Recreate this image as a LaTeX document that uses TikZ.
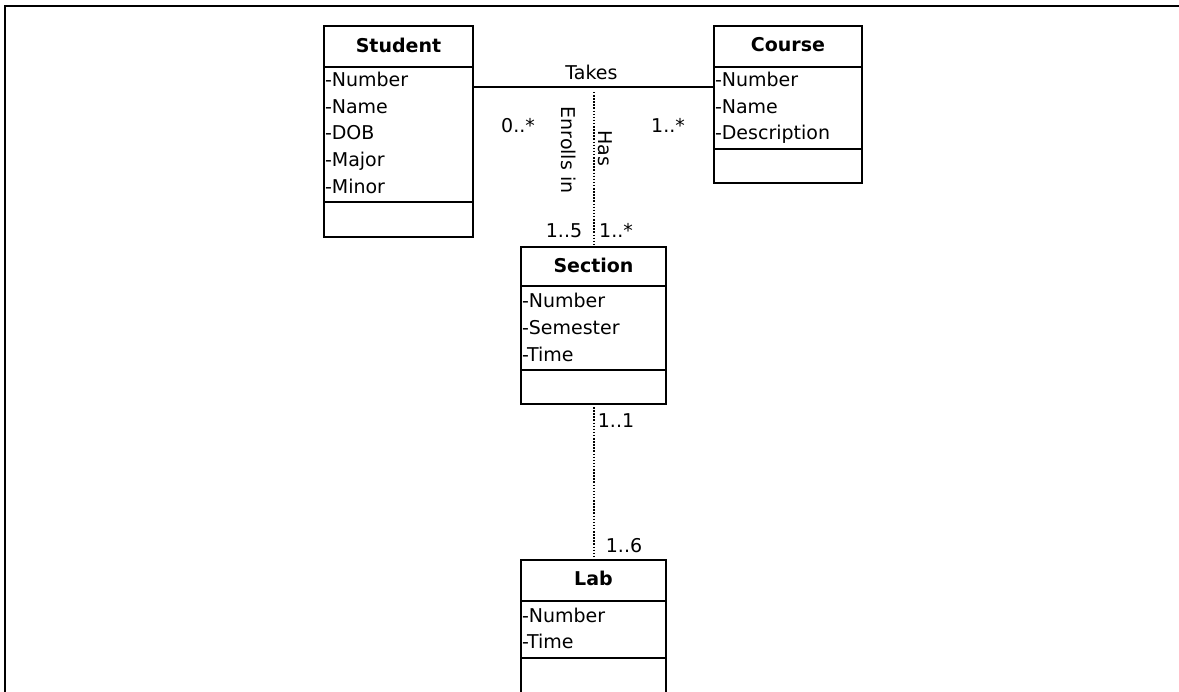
\documentclass[tikz,border=0pt]{standalone}
\usepackage{fontspec}
\setmainfont{DejaVu Sans}
\begin{document}
\begin{tikzpicture}[x=1pt,y=-1pt,
  every node/.style={font=\fontsize{19}{23}\selectfont, inner sep=0pt, outer sep=0pt},
  classbox/.style={draw, line width=2pt, anchor=north west},
  divider/.style={line width=2pt},
  title/.style={font=\fontsize{19}{23}\selectfont\bfseries},
  attr/.style={anchor=base west},
  assoc/.style={line width=1.6pt},
  dep/.style={line width=2pt, dash pattern=on 1.5pt off 1.6pt},
  mult/.style={anchor=base}
]
\clip (0,0) rectangle (1179,692);
\fill[white] (0,0) rectangle (1179,692);

% page frame (top and left edges)
\draw[line width=2.6pt] (5,692) -- (5,6) -- (1179,6);

% ---- Student ----
\node[classbox, minimum width=149pt, minimum height=211pt] (student) at (324,26) {};
\draw[divider] (324,67) -- (473,67);
\draw[divider] (324,202) -- (473,202);
\node[title] (studentT) at (398.5,45) {Student};
\node[attr] (s1) at (325,86.7) {-Number};
\node[attr] (s2) at (325,113.3) {-Name};
\node[attr] (s3) at (325,140) {-DOB};
\node[attr] (s4) at (325,166.7) {-Major};
\node[attr] (s5) at (325,193.3) {-Minor};

% ---- Course ----
\node[classbox, minimum width=148pt, minimum height=157pt] (course) at (714,26) {};
\draw[divider] (714,67) -- (862,67);
\draw[divider] (714,149) -- (862,149);
\node[title] (courseT) at (788,45) {Course};
\node[attr] (c1) at (715,86.7) {-Number};
\node[attr] (c2) at (715,113.3) {-Name};
\node[attr] (c3) at (715,140) {-Description};

% ---- Section ----
\node[classbox, minimum width=145pt, minimum height=157pt] (section) at (521,247) {};
\draw[divider] (521,286) -- (666,286);
\draw[divider] (521,370) -- (666,370);
\node[title] (sectionT) at (593.5,265) {Section};
\node[attr] (e1) at (522,308) {-Number};
\node[attr] (e2) at (522,334.7) {-Semester};
\node[attr] (e3) at (522,361.3) {-Time};

% ---- Lab ----
\node[classbox, minimum width=145pt, minimum height=150pt] (lab) at (521,560) {};
\draw[divider] (521,601) -- (666,601);
\draw[divider] (521,658) -- (666,658);
\node[title] (labT) at (593.5,578) {Lab};
\node[attr] (l1) at (522,622) {-Number};
\node[attr] (l2) at (522,648) {-Time};

% ---- associations ----
\draw[assoc] ([yshift=-61pt]student.north east) coordinate (takesL)
  -- ([yshift=-61pt]course.north west) coordinate (takesR);
\node (takes) at (591.5,72) {Takes};
\node[mult] (m1) at (518,133) {0..*};
\node[mult] (m2) at (668,133) {1..*};

\coordinate (hasTop) at (593.5,92);
\draw[dep] (hasTop) -- (section.north);
\node[rotate=-90] (enrolls) at (568.5,150) {Enrolls in};
\node[rotate=-90] (has) at (605,148) {Has};
\node[mult] (m3) at (564,238) {1..5};
\node[mult] (m4) at (616,238) {1..*};

\draw[dep] (section.south) -- (lab.north);
\node[mult] (m5) at (616,428) {1..1};
\node[mult] (m6) at (624,553) {1..6};
\end{tikzpicture}
\end{document}
